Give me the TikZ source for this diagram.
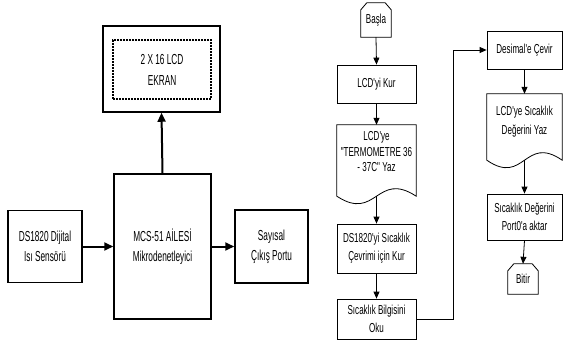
\documentclass[tikz,border=0pt]{standalone}
\usepackage{fontspec}
\setmainfont{Liberation Sans}[FakeStretch=0.62]
\newfontfamily\lfnt{Liberation Sans}[FakeStretch=0.57]
\newfontfamily\rfnt{Liberation Sans}[FakeStretch=0.62]
\usetikzlibrary{arrows.meta,calc}
\begin{document}
\begin{tikzpicture}[x=1pt,y=-1pt,
  lbox/.style={draw,line width=1.5pt,align=center,inner sep=0pt,font=\lfnt\fontsize{14.5}{20}\selectfont},
  rbox/.style={draw,line width=0.8pt,align=center,inner sep=0pt,minimum width=79pt,font=\rfnt\fontsize{13}{18}\selectfont},
  rtext/.style={align=center,inner sep=0pt,font=\rfnt\fontsize{13}{15.5}\selectfont},
  termbox/.style={draw=none,inner sep=0pt,minimum width=30pt,font=\rfnt\fontsize{13}{16}\selectfont},
  larrow/.style={line width=2pt,-{Triangle[length=9pt,width=8pt]}},
  rarrow/.style={line width=0.8pt,-{Triangle[length=7pt,width=6pt]}},
  docline/.style={draw,line width=0.8pt}]
\useasboundingbox (0,0) rectangle (563,345);
% ---------------- left block diagram ----------------
\node[lbox,minimum width=117pt,minimum height=86pt] (lcd) at (161.5,69) {};
\node[draw,line width=1.2pt,dash pattern=on 2pt off 1pt,align=center,inner sep=0pt,
      minimum width=98pt,minimum height=59pt,font=\lfnt\fontsize{14.5}{21}\selectfont] (lcdin) at (162,69.5) {2 X 16 LCD\\EKRAN};
\node[lbox,minimum width=97pt,minimum height=145pt] (mcu) at (162.5,246.5) {MCS-51 AİLESİ\\Mikrodenetleyici};
\node[lbox,minimum width=74pt,minimum height=72pt] (sens) at (45,246.5) {DS1820 Dijital\\Isı Sensörü};
\node[lbox,minimum width=73pt,minimum height=73pt] (port) at (271.5,246.5) {Sayısal\\Çıkış Portu};
\draw[larrow] (sens.east) -- (mcu.west);
\draw[larrow] (mcu.east) -- (port.west);
\draw[larrow] (mcu.north) -- (lcd.south);
% ---------------- right flowchart ----------------
\node[termbox,minimum height=34pt] (start) at (376,20) {Başla};
\draw[line width=0.8pt] (start.south west) -- ($(start.north west)+(0,7)$) -- ($(start.north west)+(6,0)$)
  -- ($(start.north east)+(-6,0)$) -- ($(start.north east)+(0,7)$) -- (start.south east) -- cycle;
\node[rbox,minimum height=38pt] (kur) at (376.5,84) {LCD'yi Kur};
\node[draw=none,minimum width=79pt,minimum height=71pt,inner sep=0pt] (doc1) at (376.5,160.5) {};
\draw[docline] (doc1.north west) -- (doc1.north east) -- (doc1.south east)
  .. controls ($(doc1.south)+(0,-26)$) and ($(doc1.south)+(0,26)$) .. (doc1.south west) -- cycle;
\node[rtext] (doc1t) at (376.5,152) {LCD'ye\\"TERMOMETRE 36\\- 37C" Yaz};
\node[rbox,minimum height=49pt] (ds) at (376.5,248.5) {DS1820'yi Sıcaklık\\Çevrimi için Kur};
\node[rbox,minimum height=40pt] (oku) at (376.5,319) {Sıcaklık Bilgisini\\Oku};
\node[rbox,minimum width=75pt,minimum height=38pt] (des) at (524.5,50) {Desimal'e Çevir};
\node[draw=none,minimum width=75pt,minimum height=66pt,inner sep=0pt] (doc2) at (524.5,127) {};
\draw[docline] (doc2.north west) -- (doc2.north east) -- (doc2.south east)
  .. controls ($(doc2.south)+(0,-26)$) and ($(doc2.south)+(0,26)$) .. (doc2.south west) -- cycle;
\node[rtext,font=\rfnt\fontsize{13}{19}\selectfont] (doc2t) at (524.5,122) {LCD'ye Sıcaklık\\Değerini Yaz};
\node[rbox,minimum width=75pt,minimum height=46pt] (deg) at (524.5,217) {Sıcaklık Değerini\\Port0'a aktar};
\node[termbox,minimum height=30pt] (stop) at (523,279) {Bitir};
\draw[line width=0.8pt] (stop.south west) -- ($(stop.north west)+(0,7)$) -- ($(stop.north west)+(6,0)$)
  -- ($(stop.north east)+(-6,0)$) -- ($(stop.north east)+(0,7)$) -- (stop.south east) -- cycle;
\coordinate (jx) at (453,0);
\draw[rarrow] (start.south) -- (kur.north);
\draw[rarrow] (kur.south) -- (doc1.north);
\draw[rarrow] (doc1.south) -- (ds.north);
\draw[rarrow] (ds.south) -- (oku.north);
\draw[rarrow] (oku.east) -- (oku.east -| jx) -- (jx |- des.west) -- (des.west);
\draw[rarrow] (des.south) -- (doc2.north);
\draw[rarrow] (doc2.south) -- (deg.north);
\draw[rarrow] (deg.south) -- (stop.north);
\end{tikzpicture}
\end{document}
